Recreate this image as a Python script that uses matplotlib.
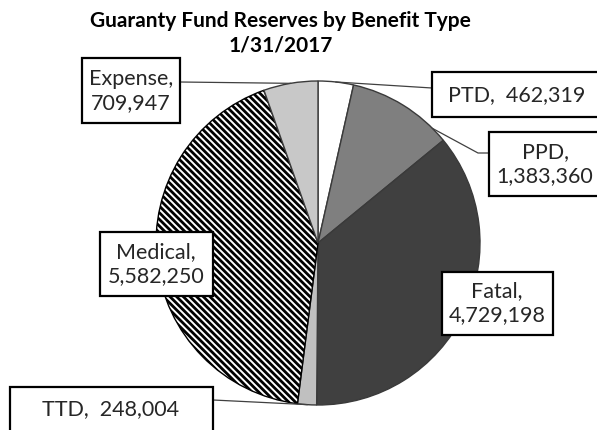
import matplotlib
matplotlib.use("Agg")
import matplotlib.pyplot as plt
from matplotlib.patches import Rectangle
import numpy as np

plt.rcParams['hatch.linewidth'] = 2.0
plt.rcParams['font.family'] = ['Lato', 'DejaVu Sans']

title = "Guaranty Fund Reserves by Benefit Type\n1/31/2017"
categories = ["PTD", "PPD", "Fatal", "TTD", "Medical", "Expense"]
values = [462319, 1383360, 4729198, 248004, 5582250, 709947]
colors = ["#ffffff", "#7f7f7f", "#404040", "#c0c0c0", "#ffffff", "#c8c8c8"]
hatches = [None, None, None, None, "\\\\\\\\\\", None]
label_text = ["PTD,  462,319", "PPD,\n1,383,360", "Fatal,\n4,729,198",
              "TTD,  248,004", "Medical,\n5,582,250", "Expense,\n709,947"]

W, H = 597, 430
fig = plt.figure(figsize=(W / 100, H / 100), dpi=100)
ax = fig.add_axes([0, 0, 1, 1])

cx, cy, R = 318, 430 - 243, 162
wedges, _ = ax.pie(values, colors=colors, startangle=90, counterclock=False,
                   center=(cx, cy), radius=R,
                   wedgeprops=dict(edgecolor="#3a3a3a", linewidth=1.0))
for w, h in zip(wedges, hatches):
    if h:
        w.set_hatch(h)
        w.set_edgecolor("black")

ax.set_xlim(0, W)
ax.set_ylim(0, H)
ax.set_aspect('equal')
ax.axis('off')

# label boxes (pixel layout, y from top): x0, y0, x1, y1
box_ext = {"PTD": (432, 72, 600, 117), "PPD": (489, 132, 600, 196),
           "Fatal": (442, 272, 553, 335), "TTD": (10, 387, 213, 433),
           "Medical": (100, 232, 213, 296), "Expense": (82, 58, 180, 123)}
text_ctr = {"PTD": (517, 95), "PPD": (545, 164), "Fatal": (497, 303),
            "TTD": (111, 409), "Medical": (156, 264), "Expense": (131, 91)}
leader_end = {"PTD": [(432, 88)], "PPD": [(478, 153), (489, 153)],
              "TTD": [(213, 400)], "Expense": [(180, 82)]}
leader_frac = {"PTD": 0.5, "PPD": 0.85, "TTD": 0.5, "Expense": 0.5}

total = sum(values)
cum = 0
for cat, v, txt in zip(categories, values, label_text):
    start = cum / total
    cum += v
    if cat in leader_end:
        f = start + leader_frac[cat] * v / total
        ang = np.deg2rad(90 - 360 * f)
        px, py = cx + R * np.cos(ang), cy + R * np.sin(ang)
        pts = [(px, py)] + [(x, H - y) for x, y in leader_end[cat]]
        xs, ys = zip(*pts)
        ax.plot(xs, ys, color="#404040", lw=0.9, zorder=3)
    x0, y0, x1, y1 = box_ext[cat]
    ax.add_patch(Rectangle((x0, H - y1), x1 - x0, y1 - y0, fc="white",
                           ec="black", lw=1.6, zorder=4))
    tx, ty = text_ctr[cat]
    ax.text(tx, H - ty, txt, ha="center", va="center", fontsize=15.5,
            color="#262626", linespacing=1.25, zorder=5)

fig.text(0.47, 1 - 33 / H, title, ha="center", va="center", fontsize=15,
         fontweight="bold", color="black", linespacing=1.3)

fig.savefig("out.png", dpi=100)
